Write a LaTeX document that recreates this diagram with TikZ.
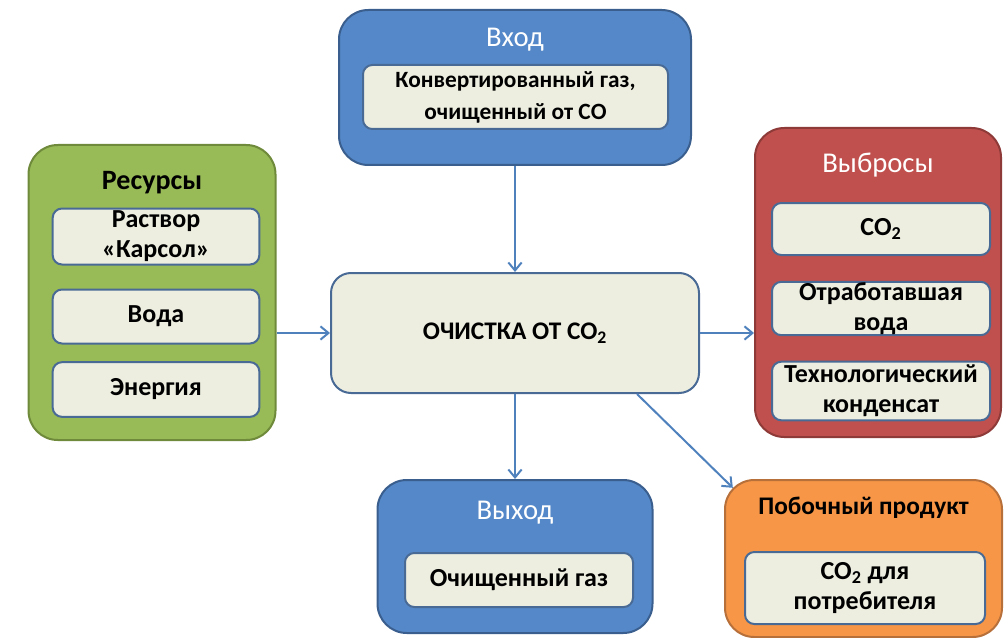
\documentclass[tikz,border=0pt]{standalone}
\usepackage{fontspec}
\setmainfont{Carlito}
\usetikzlibrary{arrows.meta}
\definecolor{blueF}{RGB}{84,136,200}
\definecolor{blueD}{RGB}{58,95,142}
\definecolor{greenF}{RGB}{152,186,87}
\definecolor{greenD}{RGB}{110,138,58}
\definecolor{redF}{RGB}{192,80,77}
\definecolor{redD}{RGB}{142,58,56}
\definecolor{orangeF}{RGB}{247,150,70}
\definecolor{orangeD}{RGB}{184,112,58}
\definecolor{cream}{RGB}{237,238,224}
\definecolor{itemD}{RGB}{74,106,150}
\definecolor{arrowC}{RGB}{79,129,189}
\newcommand{\cotwo}{CO\textsubscript{2}}
\begin{document}
\begin{tikzpicture}[x=0.75pt,y=-0.75pt,
  group/.style={draw, line width=1.5pt, rounded corners=22pt, inner sep=0pt},
  item/.style={draw=itemD, fill=cream, line width=1.5pt, rounded corners=7pt,
    inner sep=0pt, align=center, font=\fontsize{19.5}{22.5}\selectfont\bfseries},
  wtitle/.style={text=white, font=\fontsize{21.5}{24}\selectfont},
  btitle/.style={text=black, font=\fontsize{21}{24}\selectfont\bfseries},
  flow/.style={draw=arrowC, line width=1.5pt, -{Straight Barb[length=6pt,width=10pt,line width=1.5pt]}}]
\useasboundingbox (0,0) rectangle (1006,638);

% input group
\node[group, draw=blueD, fill=blueF, minimum width=264pt, minimum height=116.25pt] (vhod) at (515,87.5) {};
\node[wtitle] (vhodT) at (515,40) {Вход};
\node[item, minimum width=228.75pt, minimum height=48pt, font=\fontsize{17.5}{24}\selectfont\bfseries] (gas) at (515.5,97) {Конвертированный газ,\\очищенный от СО};

% resources group
\node[group, draw=greenD, fill=greenF, minimum width=185.25pt, minimum height=221.25pt] (res) at (152,292.5) {};
\node[btitle] (resT) at (152,183) {Ресурсы};
\node[item, minimum width=155pt, minimum height=42pt] (r1) at (156,236.5) {Раствор\\«Карсол»};
\node[item, minimum width=155pt, minimum height=40.5pt] (r2) at (156,316.5) {Вода};
\node[item, minimum width=155pt, minimum height=41pt] (r3) at (156,389.5) {Энергия};

% central process
\node[draw=itemD, fill=cream, line width=1.5pt, rounded corners=15pt, minimum width=276pt, minimum height=90pt,
  font=\fontsize{19}{22}\selectfont\bfseries] (main) at (515,333) {ОЧИСТКА ОТ \cotwo};

% emissions group
\node[group, draw=redD, fill=redF, minimum width=184.5pt, minimum height=231.75pt] (vyb) at (878,282.5) {};
\node[wtitle] (vybT) at (878,165) {Выбросы};
\node[item, minimum width=163.5pt, minimum height=39pt] (e1) at (881,229) {\cotwo};
\node[item, minimum width=163.5pt, minimum height=40pt] (e2) at (881,308.5) {Отработавшая\\вода};
\node[item, minimum width=163.5pt, minimum height=44pt] (e3) at (881,391) {Технологический\\конденсат};

% output group
\node[group, draw=blueD, fill=blueF, minimum width=206.25pt, minimum height=114.75pt] (vyh) at (515,556.5) {};
\node[wtitle] (vyhT) at (515,513) {Выход};
\node[item, minimum width=171pt, minimum height=40.5pt] (clean) at (519,580) {Очищенный газ};

% by-product group
\node[group, draw=orangeD, fill=orangeF, minimum width=207.75pt, minimum height=117.75pt] (pob) at (863.5,558.5) {};
\node[btitle, font=\fontsize{19}{22}\selectfont\bfseries] (pobT) at (863.5,508) {Побочный продукт};
\node[item, minimum width=180pt, minimum height=54pt] (byp) at (865,588) {\cotwo{} для\\потребителя};

% flows
\draw[flow] (vhod.south) -- (main.north);
\draw[flow] (res.east |- main.west) -- (main.west);
\draw[flow] (main.east) -- (vyb.west |- main.east);
\draw[flow] (main.south) -- (vyh.north);
\draw[flow] ([xshift=91.5pt]main.south) -- ([shift={(6.6pt,-6.6pt)}]pob.north west);
\end{tikzpicture}
\end{document}
